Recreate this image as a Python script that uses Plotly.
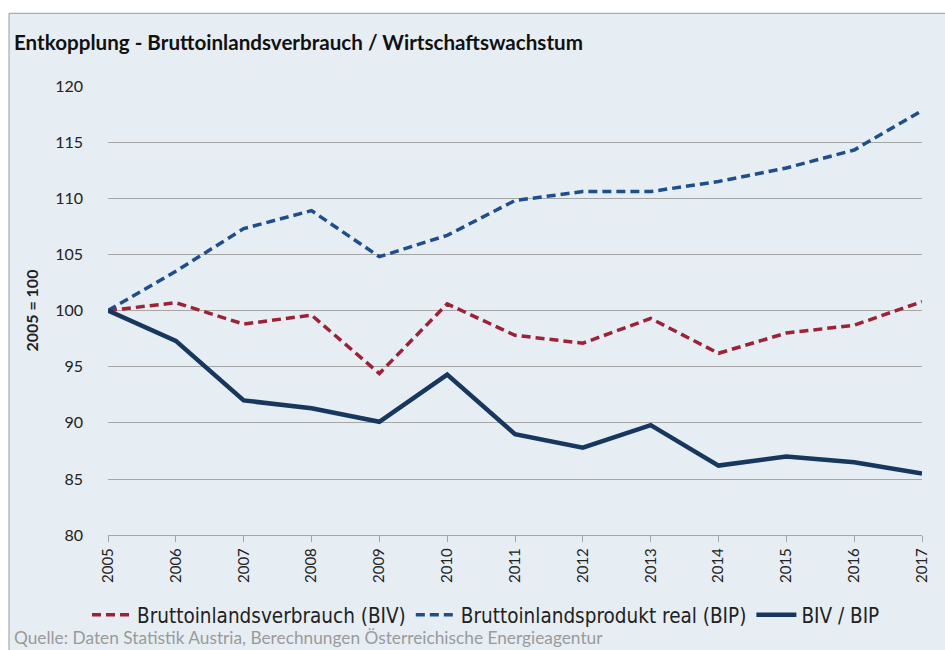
import plotly.graph_objects as go

# Werte (2005 = 100)
years = list(range(2005, 2018))
biv = [100.0, 100.7, 98.8, 99.6, 94.4, 100.6, 97.8, 97.1, 99.3, 96.2, 98.0, 98.7, 100.8]
bip = [100.0, 103.5, 107.3, 108.9, 104.8, 106.7, 109.8, 110.6, 110.6, 111.5, 112.7, 114.3, 117.8]
biv_bip = [100.0, 97.3, 92.0, 91.3, 90.1, 94.3, 89.0, 87.8, 89.8, 86.2, 87.0, 86.5, 85.5]

BG = "#e6eef4"
GRID = "#a6a6a6"
FONT = "Lato"
NARROW = "Liberation Sans Narrow, DejaVu Sans Condensed, Lato"

fig = go.Figure()

fig.add_trace(go.Scatter(
    x=years, y=biv, mode="lines", name="Bruttoinlandsverbrauch (BIV)",
    line=dict(color="#9b2335", width=3.5, dash="9px,5px"),
))
fig.add_trace(go.Scatter(
    x=years, y=bip, mode="lines", name="Bruttoinlandsprodukt real (BIP)",
    line=dict(color="#1f4e8a", width=3.5, dash="9px,5px"),
))
fig.add_trace(go.Scatter(
    x=years, y=biv_bip, mode="lines", name="BIV / BIP",
    line=dict(color="#17375e", width=4.5),
))

# Hintergrundfläche mit grauem Rand (oben/links)
fig.add_shape(
    type="rect", xref="paper", yref="paper",
    x0=(9 - 108) / 814, x1=1.2, y0=-0.5, y1=(537 - 13) / 451,
    fillcolor=BG, line=dict(color="#9a9a9a", width=1), layer="below",
)

fig.update_layout(
    width=945, height=650,
    margin=dict(l=108, r=23, t=86, b=113),
    paper_bgcolor="white",
    plot_bgcolor=BG,
    font=dict(family=FONT, color="#222222"),
    title=dict(
        text="<b>Entkopplung - Bruttoinlandsverbrauch / Wirtschaftswachstum</b>",
        x=14 / 945, xanchor="left", y=1 - 43 / 650, yanchor="middle",
        font=dict(family=FONT, size=20.6, color="#111111"),
    ),
    showlegend=True,
    legend=dict(
        orientation="h", x=486 / 945, xanchor="center", xref="container",
        y=1 - 615 / 650, yanchor="middle", yref="container",
        font=dict(family=NARROW, size=20.5, color="#222222"),
        bgcolor="rgba(0,0,0,0)", itemwidth=40, tracegroupgap=0,
    ),
    annotations=[dict(
        text="Quelle: Daten Statistik Austria, Berechnungen Österreichische Energieagentur",
        xref="paper", yref="paper",
        x=(12 - 108) / 814, xanchor="left",
        y=(537 - 640) / 451, yanchor="middle",
        showarrow=False, font=dict(family=FONT, size=17.3, color="#9a9a9a"),
    )],
)

fig.update_xaxes(
    range=[2005, 2017], tickmode="linear", tick0=2005, dtick=1,
    tickangle=-90, ticks="outside", ticklen=6, tickcolor=GRID,
    showline=True, linecolor=GRID, linewidth=1, showgrid=False,
    tickfont=dict(family=FONT, size=15, color="#222222"),
    zeroline=False,
)
fig.update_yaxes(
    range=[80, 120], dtick=5, showgrid=True, gridcolor=GRID, gridwidth=1,
    showline=False, zeroline=False, ticks="", ticklabelstandoff=24,
    tickfont=dict(family=FONT, size=16, color="#222222"),
    title=dict(text="<b>2005 = 100</b>", font=dict(family=FONT, size=16), standoff=12),
)

fig.write_html(
    "out.html",
    config={"displayModeBar": False},
    post_script="document.body.style.margin='0';",
)
